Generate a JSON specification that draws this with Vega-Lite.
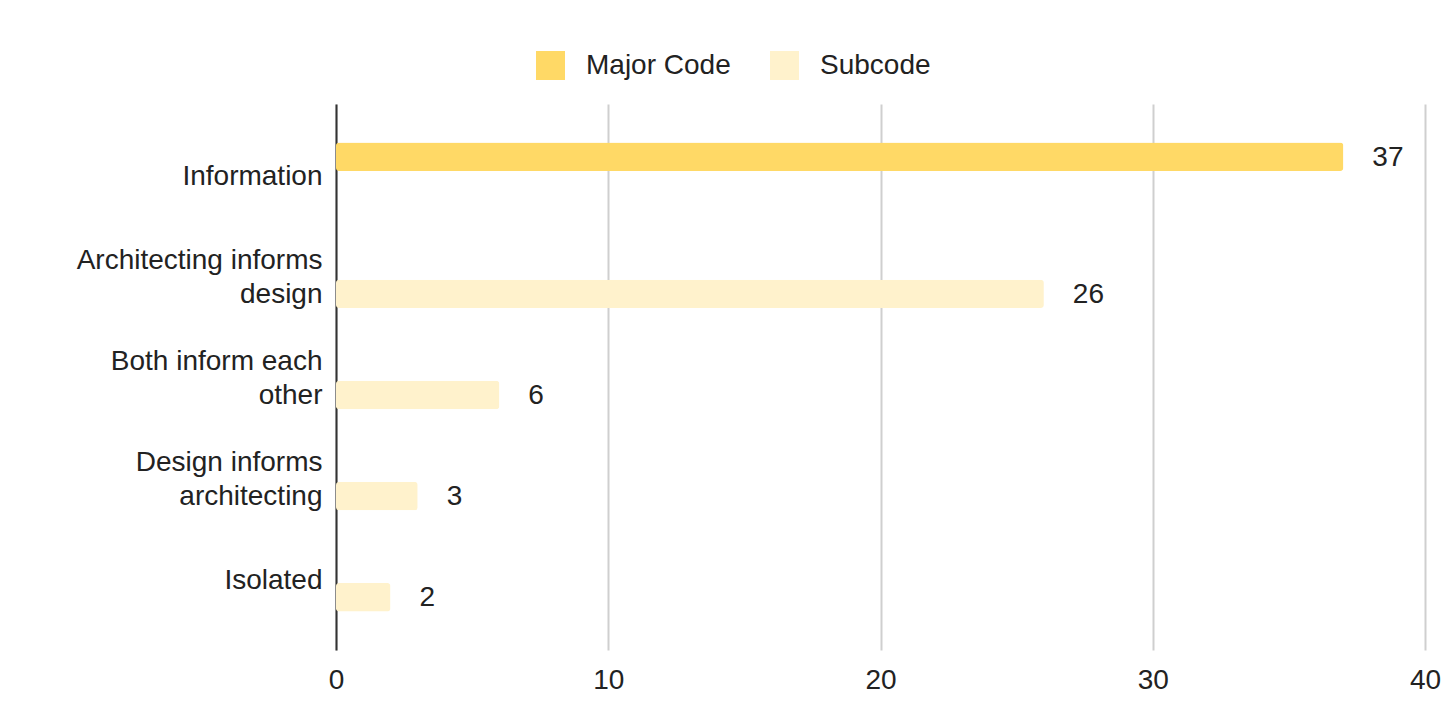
{
  "$schema": "https://vega.github.io/schema/vega-lite/v6.json",
  "width": 1089,
  "height": 546,
  "autosize": {"type": "none"},
  "padding": {"left": 336, "top": 104, "right": 17, "bottom": 77},
  "background": "white",
  "config": {
    "view": {"stroke": null},
    "font": "Liberation Sans",
    "text": {"font": "Liberation Sans"}
  },
  "data": {
    "values": [
      {"category": "Information", "series": "Major Code", "value": 37},
      {"category": "Architecting informs|design", "series": "Subcode", "value": 26},
      {"category": "Both inform each|other", "series": "Subcode", "value": 6},
      {"category": "Design informs|architecting", "series": "Subcode", "value": 3},
      {"category": "Isolated", "series": "Subcode", "value": 2}
    ]
  },
  "encoding": {
    "y": {
      "field": "category",
      "type": "nominal",
      "sort": null,
      "scale": {"paddingInner": 0, "paddingOuter": 0.2},
      "axis": {
        "title": null,
        "domain": true,
        "domainColor": "#333333",
        "domainWidth": 2,
        "ticks": false,
        "tickSize": 0,
        "grid": false,
        "labelPadding": 14,
        "labelFontSize": 28,
        "labelColor": "#222222",
        "labelFont": "Liberation Sans",
        "labelLineHeight": 34,
        "labelLimit": 0,
        "labelExpr": "split(datum.label, '|')",
        "labelOffset": {"condition": {"test": "indexof(datum.value, '|') >= 0", "value": -15}, "value": 2}
      }
    },
    "yOffset": {
      "field": "series",
      "type": "nominal",
      "sort": ["Major Code", "Subcode"],
      "scale": {"domain": ["Major Code", "Subcode"], "paddingInner": 0.21, "paddingOuter": 0.51}
    },
    "x": {
      "field": "value",
      "type": "quantitative",
      "scale": {"domain": [0, 40], "nice": false},
      "axis": {
        "title": null,
        "values": [0, 10, 20, 30, 40],
        "domain": false,
        "ticks": false,
        "tickSize": 0,
        "grid": true,
        "gridColor": "#cfcfcf",
        "gridWidth": 2,
        "labelPadding": 16,
        "labelFontSize": 28,
        "labelColor": "#222222",
        "labelFont": "Liberation Sans",
        "labelFlush": false
      }
    }
  },
  "layer": [
    {
      "mark": {"type": "bar", "cornerRadius": 3},
      "encoding": {
        "color": {
          "field": "series",
          "type": "nominal",
          "scale": {"domain": ["Major Code", "Subcode"], "range": ["#ffd966", "#fff2cc"]},
          "legend": {
            "title": null,
            "orient": "none",
            "direction": "horizontal",
            "legendX": 200,
            "legendY": -53,
            "padding": 0,
            "symbolType": "square",
            "symbolSize": 841,
            "symbolStrokeWidth": 0,
            "symbolOpacity": 1,
            "labelFontSize": 28,
            "labelColor": "#222222",
            "labelFont": "Liberation Sans",
            "labelOffset": 21,
            "columnPadding": 39
          }
        }
      }
    },
    {
      "mark": {"type": "text", "align": "left", "baseline": "middle", "dx": 29, "dy": 1, "fontSize": 28, "color": "#222222", "font": "Liberation Sans"},
      "encoding": {
        "text": {"field": "value", "type": "quantitative"}
      }
    }
  ]
}
